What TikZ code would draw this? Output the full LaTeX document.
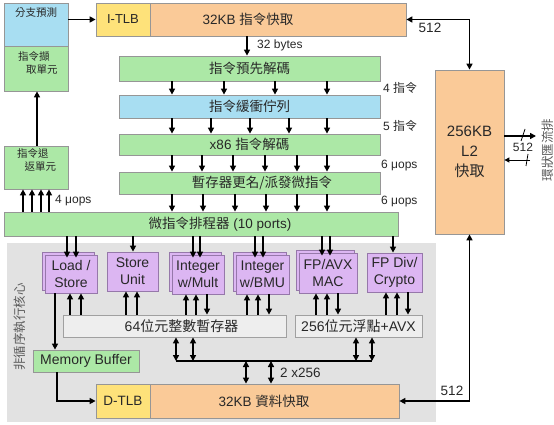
\documentclass[tikz,border=0pt]{standalone}
\usepackage{fontspec}
\setmainfont{Liberation Sans}
\newfontfamily\cjk{Noto Sans CJK TC}
\usetikzlibrary{arrows.meta,shadows}
\definecolor{bF}{RGB}{168,222,242}
\definecolor{gF}{RGB}{172,232,166}
\definecolor{oF}{RGB}{250,202,152}
\definecolor{yF}{RGB}{254,226,122}
\definecolor{pF}{RGB}{220,182,242}
\definecolor{pL}{RGB}{150,120,170}
\definecolor{grayF}{RGB}{226,226,226}
\definecolor{rF}{RGB}{238,238,238}
\definecolor{rL}{RGB}{160,160,160}
\definecolor{boxline}{RGB}{150,150,150}
\definecolor{txt}{RGB}{40,40,40}
\definecolor{vtxt}{RGB}{90,90,90}
\begin{document}
\begin{tikzpicture}[x=1pt,y=-1pt,
  box/.style={draw=boxline, line width=0.8pt, inner sep=0pt, text=txt},
  gbox/.style={box, fill=gF},
  bbox/.style={box, fill=bF},
  obox/.style={box, fill=oF},
  ybox/.style={box, fill=yF},
  pbox/.style={box, fill=pF, draw=pL, align=center, font=\fontsize{14}{17}\selectfont},
  shad/.style={copy shadow={shadow xshift=-3pt, shadow yshift=3pt, fill=pF, draw=pL, line width=0.8pt}},
  rbox/.style={box, fill=rF, draw=rL},
  arr/.style={line width=1.5pt, -{Triangle[length=6pt,width=6pt]}},
  darr/.style={line width=1.5pt, {Triangle[length=6pt,width=6pt]}-{Triangle[length=6pt,width=6pt]}},
  lbl/.style={inner sep=0pt, text=txt},
  bar/.style={font=\cjk\fontsize{13.5}{15}\selectfont},
  small/.style={lbl, font=\fontsize{12}{14}\selectfont},
  tiny/.style={lbl, font=\cjk\fontsize{10.5}{13}\selectfont},
  vert/.style={inner sep=0pt, text=vtxt, rotate=90, font=\cjk\fontsize{12.5}{14}\selectfont}
]
\useasboundingbox (0,0) rectangle (554,425);
\fill[white] (0,0) rectangle (554,425);

% core region
\node[fill=grayF, minimum width=429, minimum height=179, inner sep=0pt] (core) at (221.5,332.5) {};
\node[vert] (ooo) at (20,327) {非循序執行核心};

% left column
\node[bbox, minimum width=64, minimum height=43] (bp) at (36,24.5) {};
\node[tiny] (bpt) at (36,13) {分支預測};
\node[gbox, minimum width=64, minimum height=45] (fetch) at (36,68.5) {};
\node[tiny, align=left, anchor=north west] (fetcht) at (18,51) {指令擷\\\hspace*{0.75em}取單元};
\node[gbox, minimum width=64, minimum height=43] (ret) at (36,167.5) {};
\node[tiny, align=left, anchor=north west] (rett) at (17,148) {指令退\\\hspace*{0.7em}返單元};

% front end
\node[obox, minimum width=256, minimum height=33] (icache) at (278,19.5) {};
\node[ybox, minimum width=54, minimum height=33, font=\fontsize{13}{15}\selectfont] (itlb) at (123,19.5) {I-TLB};
\node[lbl, font=\fontsize{13.5}{15}\selectfont] (icachet) at (248,19.5) {32KB {\cjk 指令快取}};

\node[gbox, bar, minimum width=261, minimum height=25] (pre) at (249.5,68.5) {指令預先解碼};
\node[bbox, bar, minimum width=261, minimum height=23] (queue) at (249.5,106.5) {指令緩衝佇列};
\node[gbox, minimum width=261, minimum height=21, font=\fontsize{13.5}{15}\selectfont] (dec) at (249.5,144.5) {x86 {\cjk 指令解碼}};
\node[gbox, minimum width=261, minimum height=22] (ren) at (249.5,183) {};
\node[lbl, bar] (rent) at (262,183) {暫存器更名/派發微指令};
\node[gbox, minimum width=394, minimum height=24] (sch) at (201,224) {};
\node[lbl, font=\fontsize{13.5}{15}\selectfont] (scht) at (220,224) {{\cjk 微指令排程器} (10 ports)};

% L2
\node[obox, minimum width=69, minimum height=164, align=center, font=\fontsize{15}{20}\selectfont] (l2) at (469.5,152) {256KB\\L2\\{\cjk 快取}};

% execution units
\node[pbox, shad, minimum width=52, minimum height=38] (ls) at (71,274) {Load /\\Store};
\node[pbox, minimum width=51, minimum height=39] (st) at (132.5,271.5) {Store\\Unit};
\node[pbox, shad, minimum width=52, minimum height=39] (im) at (198,274.5) {Integer\\w/Mult};
\node[pbox, shad, minimum width=53, minimum height=39] (ib) at (262.5,274.5) {Integer\\w/BMU};
\node[pbox, shad, minimum width=58, minimum height=40] (fp) at (328,273) {FP/AVX\\MAC};
\node[pbox, minimum width=55, minimum height=39] (fd) at (394.5,272.5) {FP Div/\\Crypto};

% register files
\node[rbox, minimum width=223, minimum height=22, font=\fontsize{14}{16}\selectfont] (irf) at (174.5,326) {\hspace*{14pt}64{\cjk 位元整數暫存器}};
\node[rbox, minimum width=127, minimum height=22, font=\fontsize{14}{16}\selectfont] (frf) at (358.5,326) {256{\cjk 位元浮點}+AVX};

% memory
\node[gbox, minimum width=106, minimum height=22, font=\fontsize{14}{16}\selectfont] (mb) at (86,361) {Memory Buffer};
\node[obox, minimum width=249, minimum height=34] (dc) at (274.5,401) {};
\node[ybox, minimum width=54, minimum height=34, font=\fontsize{13.5}{15}\selectfont] (dtlb) at (123,401) {D-TLB};
\node[lbl, font=\fontsize{13.5}{15}\selectfont] (dct) at (264,401) {32KB {\cjk 資料快取}};

% front-end connectors
\draw[arr] (bp.east |- itlb.west) -- (itlb.west);
\draw[arr] (247,0 |- icache.south) -- (247,0 |- pre.north);
\node[small, anchor=west] (l32) at (257,45) {32 bytes};
\foreach \x in {172,224,275,327} \draw[arr] (\x,0 |- pre.south) -- (\x,0 |- queue.north);
\foreach \x in {172,211,250,289,327} \draw[arr] (\x,0 |- queue.south) -- (\x,0 |- dec.north);
\foreach \x in {172,202,233,265,297,327} \draw[arr] (\x,0 |- dec.south) -- (\x,0 |- ren.north);
\foreach \x in {172,203,235,266,297,327} \draw[arr] (\x,0 |- ren.south) -- (\x,0 |- sch.north);
\node[small, anchor=west] (l4) at (383,88) {4 {\cjk 指令}};
\node[small, anchor=west] (l5) at (383,126) {5 {\cjk 指令}};
\node[small, anchor=west] (l6a) at (381,166) {6 μops};
\node[small, anchor=west] (l6b) at (381,202) {6 μops};

% retire
\foreach \x in {23,32,41,49} \draw[arr] (\x,0 |- sch.north) -- (\x,0 |- ret.south);
\node[small, anchor=west] (l4u) at (55,201) {4 μops};
\draw[arr] (37,0 |- ret.north) -- (37,0 |- fetch.south);

% scheduler to units
\foreach \x in {67,76} \draw[arr, shorten >=-3pt] (\x,0 |- sch.south) -- (\x,0 |- ls.north);
\draw[arr] (133,0 |- sch.south) -- (133,0 |- st.north);
\foreach \x in {193,200} \draw[arr, shorten >=-3pt] (\x,0 |- sch.south) -- (\x,0 |- im.north);
\foreach \x in {255,263} \draw[arr, shorten >=-3pt] (\x,0 |- sch.south) -- (\x,0 |- ib.north);
\foreach \x in {322,330} \draw[arr, shorten >=-3pt] (\x,0 |- sch.south) -- (\x,0 |- fp.north);
\draw[arr] (393,0 |- sch.south) -- (393,0 |- fd.north);

% units <-> register files
\foreach \x in {70,81} \draw[arr] (\x,0 |- irf.north) -- (\x,0 |- ls.south);
\foreach \x in {126,137} \draw[arr] (\x,0 |- irf.north) -- (\x,0 |- st.south);
\foreach \x in {186,196} \draw[arr] (\x,0 |- irf.north) -- (\x,0 |- im.south);
\draw[arr] (207,0 |- im.south) -- (207,0 |- irf.north);
\foreach \x in {247,258} \draw[arr] (\x,0 |- irf.north) -- (\x,0 |- ib.south);
\draw[arr] (269,0 |- ib.south) -- (269,0 |- irf.north);
\foreach \x in {316,327} \draw[arr] (\x,0 |- frf.north) -- (\x,0 |- fp.south);
\draw[arr] (338,0 |- fp.south) -- (338,0 |- frf.north);
\foreach \x in {386,397} \draw[arr] (\x,0 |- frf.north) -- (\x,0 |- fd.south);
\draw[arr] (408,0 |- fd.south) -- (408,0 |- frf.north);

% load/store path
\draw[arr] (55,0 |- ls.south) -- (55,0 |- mb.north);
\draw[arr] (57,0 |- mb.south) |- (dtlb.west);

% data bus
\coordinate (bl) at (176,361);
\coordinate (br) at (372,361);
\draw[line width=1.5pt] (bl) -- (br);
\foreach \x in {176,193} \draw[darr] (\x,0 |- irf.south) -- (\x,0 |- bl);
\foreach \x in {356,372} \draw[darr] (\x,0 |- frf.south) -- (\x,0 |- bl);
\foreach \x in {246,271} \draw[darr] (\x,0 |- bl) -- (\x,0 |- dc.north);
\node[lbl, anchor=west, font=\fontsize{13.5}{15}\selectfont] (l2x) at (280,373) {2 x256};

% L2 links
\draw[darr] (icache.east) -| (l2.north);
\node[lbl, font=\fontsize{13.5}{15}\selectfont] (l512a) at (430,28) {512};
\draw[darr] (dc.east) -| (l2.south);
\node[lbl, font=\fontsize{13.5}{15}\selectfont] (l512b) at (452,391) {512};

% ring bus
\coordinate (ro) at (536,136);
\coordinate (ri) at (530,160);
\draw[arr] (l2.east |- ro) -- (ro);
\draw[line width=1pt, -{Triangle[length=5pt,width=5pt]}] (ri) -- (l2.east |- ri);
\draw[line width=0.8pt] ([shift={(-15,5)}]ro) -- ([shift={(-11,-7)}]ro);
\draw[line width=0.8pt] ([shift={(-4,6)}]ri) -- ([shift={(-2,-6)}]ri);
\node[small] (l512c) at (523,147) {512};
\node[vert] (ring) at (548,150) {環狀匯流排};
\end{tikzpicture}
\end{document}
